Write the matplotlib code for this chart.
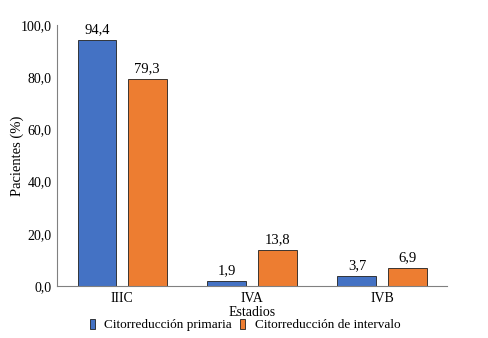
import numpy as np
import matplotlib.pyplot as plt

estadios = ["IIIC", "IVA", "IVB"]
primaria = [94.4, 1.9, 3.7]
intervalo = [79.3, 13.8, 6.9]
yticks = [0, 20, 40, 60, 80, 100]

plt.rcParams['font.family'] = ['Liberation Serif', 'DejaVu Serif']

fig = plt.figure(figsize=(4.88, 3.38), dpi=100)
ax = fig.add_axes([0.117, 0.154, 0.799, 0.772])

x = np.arange(len(estadios))
w = 0.3
b1 = ax.bar(x - 0.193, primaria, w, color='#4472C4', edgecolor='#1f1f1f', linewidth=0.6,
            label='Citorreducción primaria')
b2 = ax.bar(x + 0.193, intervalo, w, color='#ED7D31', edgecolor='#1f1f1f', linewidth=0.6,
            label='Citorreducción de intervalo')

for bars, vals in [(b1, primaria), (b2, intervalo)]:
    for r, v in zip(bars, vals):
        ax.text(r.get_x() + r.get_width() / 2, v + 1.5, f"{v:.1f}".replace('.', ','),
                ha='center', va='bottom', fontsize=10.5)

ax.set_xlim(-0.5, 2.5)
ax.set_ylim(0, 100)
ax.set_yticks(yticks)
ax.set_yticklabels([f"{t:.1f}".replace('.', ',') for t in yticks], fontsize=10)
ax.set_xticks(x)
ax.set_xticklabels(estadios, fontsize=10)
ax.tick_params(length=0, pad=4)
ax.set_ylabel('Pacientes (%)', fontsize=10.5)
ax.yaxis.set_label_coords(-0.085, 0.5)
ax.set_xlabel('Estadios', fontsize=10, labelpad=1)

for s in ['top', 'right']:
    ax.spines[s].set_visible(False)
for s in ['left', 'bottom']:
    ax.spines[s].set_color('#808080')
    ax.spines[s].set_linewidth(0.8)

fig.legend(handles=[b1, b2], loc='center', bbox_to_anchor=(0.502, 0.038), ncol=2, frameon=False,
           fontsize=9.5, handlelength=0.4, handleheight=0.8, handletextpad=0.7,
           columnspacing=0.6, borderaxespad=0, borderpad=0)

fig.savefig('out.png', dpi=100)
